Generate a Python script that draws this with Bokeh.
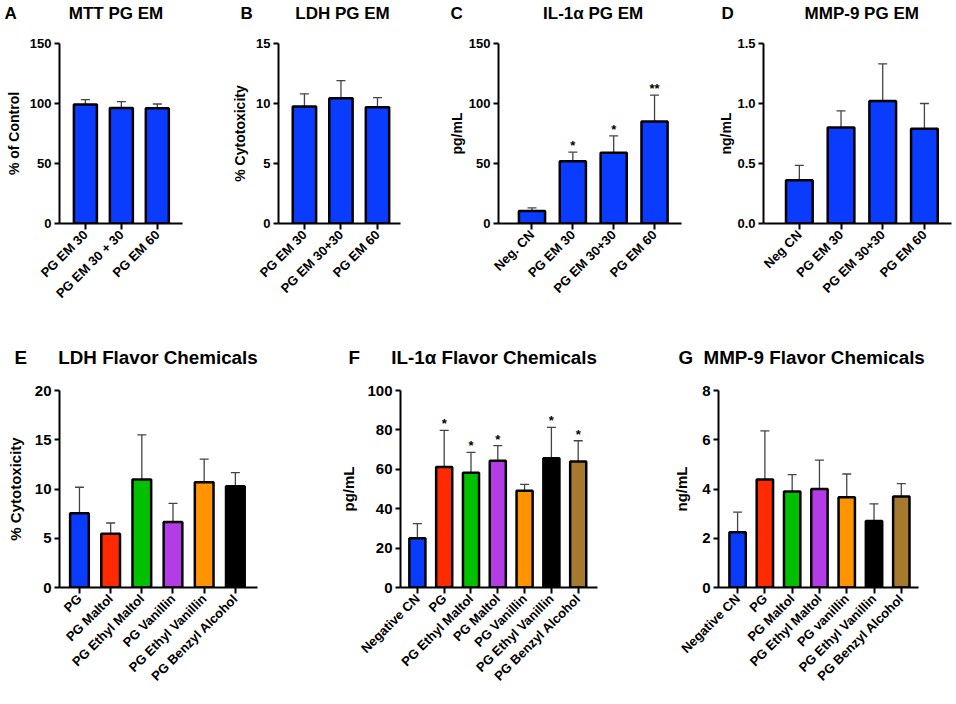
from math import pi
from bokeh.plotting import figure
from bokeh.models import (ColumnDataSource, Range1d, FixedTicker, Whisker, TeeHead,
                          Title, NumeralTickFormatter)
from bokeh.layouts import row, column
from bokeh.core.properties import value
from bokeh.embed import file_html
from bokeh.resources import INLINE

FONT = "Liberation Sans"
BLUE = "#0A3CFF"
RED = "#FF2A00"
GREEN = "#00C000"
PURPLE = "#B43CE6"
ORANGE = "#FF9400"
BLACK = "#000000"
BROWN = "#A57A2E"
NB = "\u00a0"

# ---------------- data ----------------
mtt_cats = ["PG EM 30", "PG EM 30 + 30", "PG EM 60"]
mtt_mean = [99.1, 96.3, 96.0]
mtt_upper = [103.2, 101.6, 99.6]
mtt_ticks = [0, 50, 100, 150]

ldh_em_cats = ["PG EM 30", "PG EM 30+30", "PG EM 60"]
ldh_em_mean = [9.74, 10.43, 9.69]
ldh_em_upper = [10.8, 11.9, 10.49]
ldh_em_ticks = [0, 5, 10, 15]

il1_em_cats = ["Neg. CN", "PG EM 30", "PG EM 30+30", "PG EM 60"]
il1_em_mean = [10.5, 51.8, 59.0, 85.0]
il1_em_upper = [13.0, 59.5, 73.0, 107.0]
il1_em_sig = ["", "*", "*", "**"]
il1_em_ticks = [0, 50, 100, 150]

mmp_em_cats = ["Neg CN", "PG EM 30", "PG EM 30+30", "PG EM 60"]
mmp_em_mean = [0.36, 0.80, 1.02, 0.79]
mmp_em_upper = [0.484, 0.938, 1.33, 1.00]
mmp_em_ticks = [0.0, 0.5, 1.0, 1.5]

ldh_fl_cats = ["PG", "PG Maltol", "PG Ethyl Maltol", "PG Vanillin",
               "PG Ethyl Vanillin", "PG Benzyl Alcohol"]
ldh_fl_mean = [7.53, 5.45, 10.96, 6.66, 10.69, 10.29]
ldh_fl_upper = [10.18, 6.55, 15.5, 8.54, 13.04, 11.66]
ldh_fl_colors = [BLUE, RED, GREEN, PURPLE, ORANGE, BLACK]
ldh_fl_ticks = [0, 5, 10, 15, 20]

il1_fl_cats = ["Negative CN", "PG", "PG Ethyl Maltol", "PG Maltol", "PG Vanillin",
               "PG Ethyl Vanillin", "PG Benzyl Alcohol"]
il1_fl_mean = [25.0, 61.2, 58.3, 64.4, 49.1, 65.6, 63.9]
il1_fl_upper = [32.4, 79.8, 68.6, 72.0, 52.3, 81.3, 74.5]
il1_fl_sig = ["", "*", "*", "*", "", "*", "*"]
il1_fl_colors = [BLUE, RED, GREEN, PURPLE, ORANGE, BLACK, BROWN]
il1_fl_ticks = [0, 20, 40, 60, 80, 100]

mmp_fl_cats = ["Negative CN", "PG", "PG Maltol", "PG Ethyl Maltol", "PG vanillin",
               "PG Ethyl Vanillin", "PG Benzyl Alcohol"]
mmp_fl_mean = [2.24, 4.39, 3.90, 4.00, 3.66, 2.70, 3.70]
mmp_fl_upper = [3.06, 6.36, 4.58, 5.17, 4.61, 3.40, 4.22]
mmp_fl_colors = [BLUE, RED, GREEN, PURPLE, ORANGE, BLACK, BROWN]
mmp_fl_ticks = [0, 2, 4, 6, 8]


def panel(cats, mean, upper, colors, yticks, ylabel, title, letter, sig=None, fmt=None,
          width=200, height=300, mbl=50, mbr=10, mbt=35, mbb=100, pad_l=0.7, pad_r=0.7,
          bar_w=0.62, title_size="17px", letter_x=2, gap=10, spacer=16,
          ytick_size="13px", ylab_size="14px", ylab_standoff=5):
    n = len(cats)
    xs = list(range(n))
    p = figure(width=width, height=height,
               x_range=Range1d(-pad_l, n - 1 + pad_r),
               y_range=Range1d(yticks[0], yticks[-1]),
               output_backend="svg", toolbar_location=None,
               min_border_left=mbl, min_border_right=mbr,
               min_border_top=mbt, min_border_bottom=mbb)
    p.outline_line_color = None
    p.xgrid.grid_line_color = None
    p.ygrid.grid_line_color = None
    p.background_fill_color = "white"
    p.border_fill_color = "white"

    # spacer between frame and the title line, then panel letter + title on one line
    p.add_layout(Title(text=NB, text_font_size="2px", standoff=spacer), "above")
    p.add_layout(Title(text=letter + NB * gap + title, align="left", offset=letter_x - mbl,
                       text_font=FONT, text_font_size=title_size, text_font_style="bold",
                       text_color="black", standoff=2), "above")

    src = ColumnDataSource(dict(x=xs, top=mean, upper=upper, color=colors))
    p.add_layout(Whisker(base="x", lower="top", upper="upper", source=src,
                         line_color="#444444", line_width=1.3,
                         upper_head=TeeHead(size=9, line_color="#444444", line_width=1.3),
                         lower_head=None))
    p.vbar(x="x", top="top", width=bar_w, bottom=0, fill_color="color",
           line_color="black", line_width=2.5, source=src)
    if sig is not None:
        p.text(x=xs, y=upper, text=sig, text_align="center", text_baseline="bottom",
               text_font=value(FONT), text_font_size="13px", text_font_style="bold",
               text_color="black", y_offset=1)

    for ax in (p.xaxis[0], p.yaxis[0]):
        ax.axis_line_width = 2
        ax.axis_line_color = "black"
        ax.major_tick_line_width = 2
        ax.major_tick_line_color = "black"
        ax.major_tick_in = 0
        ax.minor_tick_line_color = None
        ax.major_label_text_font = FONT
        ax.major_label_text_font_size = "13px"
        ax.major_label_text_font_style = "bold"
        ax.major_label_text_color = "black"
    p.xaxis.ticker = FixedTicker(ticks=xs)
    p.xaxis.major_label_overrides = {i: c for i, c in enumerate(cats)}
    p.xaxis.major_label_orientation = pi / 4
    p.xaxis.major_tick_out = 6
    p.xaxis.major_label_standoff = 3
    p.yaxis.ticker = FixedTicker(ticks=yticks)
    p.yaxis.major_tick_out = 5
    p.yaxis.major_label_standoff = 3
    p.yaxis.major_label_text_font_size = ytick_size
    if fmt:
        p.yaxis.formatter = NumeralTickFormatter(format=fmt)
    p.yaxis.axis_label = ylabel
    p.yaxis.axis_label_text_font = FONT
    p.yaxis.axis_label_text_font_size = ylab_size
    p.yaxis.axis_label_text_font_style = "bold"
    p.yaxis.axis_label_text_color = "black"
    p.yaxis.axis_label_standoff = ylab_standoff
    return p


TOP_H, BOT_H = 330, 372
TOP = dict(height=TOP_H, mbt=43, mbb=107, bar_w=0.64, spacer=16)
BOT = dict(height=BOT_H, mbt=60, mbb=115, bar_w=0.6, title_size="18.8px", spacer=18,
           ytick_size="15px", ylab_size="15px")

pA = panel(mtt_cats, mtt_mean, mtt_upper, [BLUE] * 3, mtt_ticks, "% of Control",
           "MTT PG EM", "A", width=225, mbl=59, mbr=43, pad_l=0.72, pad_r=0.70,
           letter_x=4, gap=11, ylab_standoff=5, **TOP)
pB = panel(ldh_em_cats, ldh_em_mean, ldh_em_upper, [BLUE] * 3, ldh_em_ticks, "% Cytotoxicity",
           "LDH PG EM", "B", width=220, mbl=53, mbr=45, pad_l=0.71, pad_r=0.63,
           letter_x=15, gap=9, ylab_standoff=5, **TOP)
pC = panel(il1_em_cats, il1_em_mean, il1_em_upper, [BLUE] * 4, il1_em_ticks, "pg/mL",
           "IL-1α PG EM", "C", sig=il1_em_sig, width=270, mbl=51, mbr=34, pad_l=0.82,
           pad_r=0.66, letter_x=3, gap=17, ylab_standoff=1, **TOP)
pD = panel(mmp_em_cats, mmp_em_mean, mmp_em_upper, [BLUE] * 4, mmp_em_ticks, "ng/mL",
           "MMP-9 PG EM", "D", fmt="0.0", width=239, mbl=48, mbr=3, pad_l=0.86, pad_r=0.65,
           letter_x=6, gap=15, ylab_standoff=0, **TOP)

pE = panel(ldh_fl_cats, ldh_fl_mean, ldh_fl_upper, ldh_fl_colors, ldh_fl_ticks,
           "% Cytotoxicity", "LDH Flavor Chemicals", "E", width=335, mbl=59, mbr=78,
           pad_l=0.64, pad_r=0.71, letter_x=14, gap=6, ylab_standoff=8, **BOT)
pF = panel(il1_fl_cats, il1_fl_mean, il1_fl_upper, il1_fl_colors, il1_fl_ticks, "pg/mL",
           "IL-1α Flavor Chemicals", "F", sig=il1_fl_sig, width=330, mbl=65, mbr=68,
           pad_l=0.63, pad_r=0.72, letter_x=13, gap=6, ylab_standoff=7, **BOT)
pG = panel(mmp_fl_cats, mmp_fl_mean, mmp_fl_upper, mmp_fl_colors, mmp_fl_ticks, "ng/mL",
           "MMP-9 Flavor Chemicals", "G", width=289, mbl=53, mbr=36, pad_l=0.70, pad_r=0.63,
           letter_x=13, gap=2, ylab_standoff=9, **BOT)

layout = column(row(pA, pB, pC, pD), row(pE, pF, pG))
open("out.html", "w").write(file_html(layout, INLINE))
